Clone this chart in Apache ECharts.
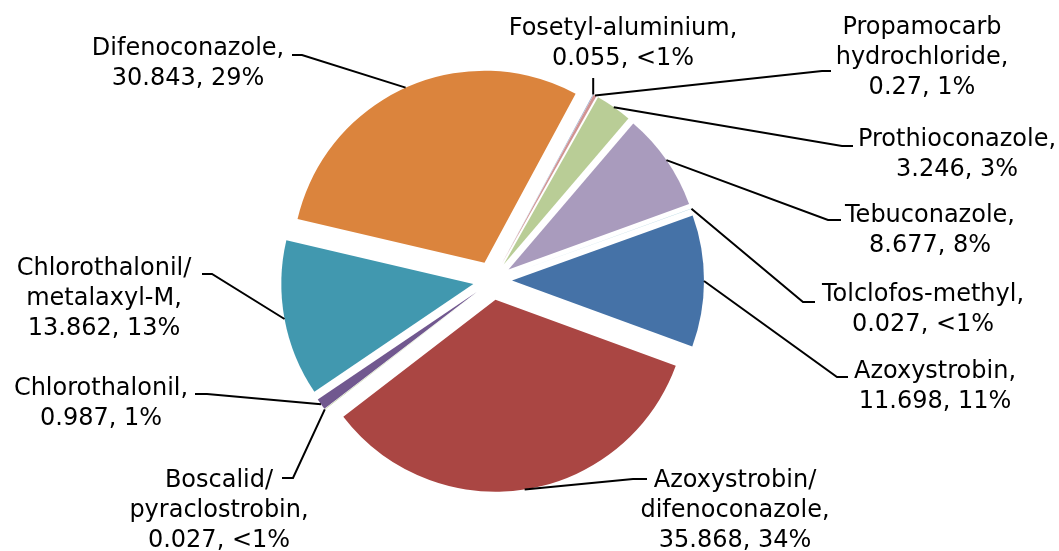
<!DOCTYPE html>
<html><head><meta charset="utf-8">
<script src="https://cdn.jsdelivr.net/npm/echarts@6/dist/echarts.min.js"></script>
<style>html,body{margin:0;padding:0;background:#fff}#c{width:1059px;height:551px}</style>
</head><body><div id="c"></div>
<script>
const categories = ['Azoxystrobin','Azoxystrobin/difenoconazole','Boscalid/pyraclostrobin','Chlorothalonil','Chlorothalonil/metalaxyl-M','Difenoconazole','Fosetyl-aluminium','Propamocarb hydrochloride','Prothioconazole','Tebuconazole','Tolclofos-methyl'];
const labelNames = ['Azoxystrobin,','Azoxystrobin/\ndifenoconazole,','Boscalid/\npyraclostrobin,','Chlorothalonil,','Chlorothalonil/\nmetalaxyl-M,','Difenoconazole,','Fosetyl-aluminium,','Propamocarb\nhydrochloride,','Prothioconazole,','Tebuconazole,','Tolclofos-methyl,'];
const values = [11.698,35.868,0.027,0.987,13.862,30.843,0.055,0.27,3.246,8.677,0.027];
const percentLabels = ['11%','34%','<1%','1%','13%','29%','<1%','1%','3%','8%','<1%'];
const colors = ['#4572A7','#AA4643','#89A54E','#71588F','#4198AF','#DB843D','#93A9CF','#D19392','#B9CD96','#A99BBD','#92C3D4'];

// layout only: label block centres and leader-line bend points
const labelPos = [[935,387],[735,511],[219,511],[101,404],[104,299],[188,64],[623,44],[922,58],[957,155],[930,231],[923,310]];
const leaderBends = [
  [[837,377],[848,377]],
  [[633,479],[647,479]],
  [[293,478],[282,478]],
  [[207,394],[195,394]],
  [[212,274],[202,274]],
  [[302,55],[292,55]],
  [[null,78]],
  [[822,71],[831,71]],
  [[842,146],[853,146]],
  [[828,220],[841,220]],
  [[803,302],[815,302]]
];
const CENTER = [492.5,280.5], RADIUS = 192, START = 19.8, OFFSET = 19.5;

const chart = echarts.init(document.getElementById('c'), null, {renderer:'canvas'});
const common = {type:'pie', center:CENTER, radius:RADIUS, startAngle:START, clockwise:true, avoidLabelOverlap:false, emphasis:{disabled:true}, silent:true};
chart.setOption({
  animation:false,
  backgroundColor:'#fff',
  series:[
    Object.assign({}, common, {
      selectedMode:'multiple',
      selectedOffset:OFFSET,
      label:{show:false}, labelLine:{show:false},
      data:categories.map((n,i)=>({name:n, value:values[i], selected:true, itemStyle:{color:colors[i]}}))
    }),
    Object.assign({}, common, {
      z:3,
      selectedMode:false,
      itemStyle:{color:'rgba(0,0,0,0)'},
      data:categories.map((n,i)=>({name:n, value:values[i]})),
      label:{
        show:true, position:'outside', color:'#000', fontFamily:'DejaVu Sans', fontSize:24, lineHeight:30, align:'center',
        formatter:p=>labelNames[p.dataIndex]+'\n'+values[p.dataIndex]+', '+percentLabels[p.dataIndex]
      },
      labelLine:{show:true, lineStyle:{color:'#000', width:2}},
      labelLayout:function(p){
        const i=p.dataIndex, pos=labelPos[i];
        let s=p.labelLinePoints ? p.labelLinePoints[0] : [pos[0],pos[1]];
        const vx=s[0]-CENTER[0], vy=s[1]-CENTER[1], L=Math.hypot(vx,vy)||1;
        s=[s[0]+OFFSET*vx/L, s[1]+OFFSET*vy/L];
        const pts=[s];
        leaderBends[i].forEach(b=>pts.push([b[0]==null?s[0]:b[0], b[1]]));
        return {x:pos[0], y:pos[1], align:'center', verticalAlign:'middle', labelLinePoints:pts};
      }
    })
  ]
});
</script></body></html>
